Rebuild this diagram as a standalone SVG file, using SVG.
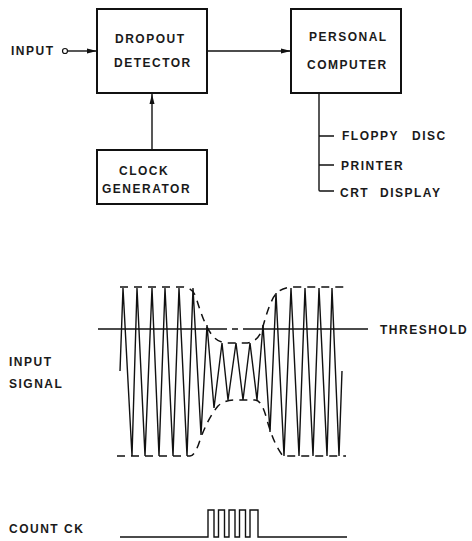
<svg xmlns="http://www.w3.org/2000/svg" width="472" height="541" viewBox="0 0 472 541">
<style>
text{font-family:"Liberation Sans",Arial,sans-serif;font-size:12px;font-weight:bold;fill:#1a1a1a;letter-spacing:1.5px}
.box{fill:#fff;stroke:#111;stroke-width:2}
.ln{fill:none;stroke:#111;stroke-width:1.4}
.wave{fill:none;stroke:#111;stroke-width:1.4;stroke-linejoin:miter}
.dash{fill:none;stroke:#111;stroke-width:1.5;stroke-dasharray:8 6}
</style>
<defs><marker id="a" viewBox="0 0 10 6" refX="10" refY="3" markerWidth="10" markerHeight="6" markerUnits="userSpaceOnUse" orient="auto"><path d="M0 .5L10 3L0 5.500z" fill="#111"/></marker></defs>
<rect width="472" height="541" fill="#fff"/>
<g id="connectors">
<circle cx="65" cy="51" r="2.500" fill="#fff" stroke="#111" stroke-width="1.200"/>
<path class="ln" d="M68 51H97" marker-end="url(#a)"/>
<path class="ln" d="M207 51H291" marker-end="url(#a)"/>
<path class="ln" d="M152 149V94" marker-end="url(#a)"/>
<path class="ln" d="M319 94V190Q319 191 320 191H334M319 136H334M319 165H334"/>
</g>
<g id="input-label"><text x="11" y="55">INPUT</text></g>
<g id="dropout-detector"><rect class="box" x="97" y="9" width="110" height="84"/><text x="115" y="43">DROPOUT</text><text x="114" y="67">DETECTOR</text></g>
<g id="personal-computer"><rect class="box" x="291" y="9" width="110" height="84"/><text x="309" y="41">PERSONAL</text><text x="307" y="69">COMPUTER</text></g>
<g id="clock-generator"><rect class="box" x="97" y="150" width="110" height="54"/><text x="119" y="175">CLOCK</text><text x="102" y="193">GENERATOR</text></g>
<g id="outputs"><text x="342" y="140">FLOPPY<tspan x="412">DISC</tspan></text><text x="341" y="170">PRINTER</text><text x="340" y="197" style="word-spacing:6px">CRT DISPLAY</text></g>
<g id="waveforms">
<path class="wave" d="M120 371L123 288L132 456L137 288L145 456L152 288L159 456L165 288L173 456L179 288L187 456L193 288L201 435L207 325L214 408L222 343L228 400L236 343L243 400L250 343L257 400L263 325L270 432L276 293L284 456L291 288L299 456L305 288L313 456L319 288L327 456L332 288L339 456L342 371"/>
<path class="dash" d="M120 287H182Q192 287 196 297Q204 325 212 335Q218 343 228 343H245Q257 343 262 330Q270 300 276 294Q282 287 295 287H346"/>
<path class="dash" d="M117 456H190Q195 456 200 440Q208 418 218 406Q224 400 235 400H255Q262 400 267 420Q274 445 283 456H346"/>
<path class="ln" d="M98 329H227M243 329H368"/>
<path class="dash" d="M232 329H238" style="stroke-dasharray:none"/>
<path class="ln" d="M120 537H208V510H214V537H218.500V510H224.500V537H229V510H235V537H239.500V510H245.500V537H250V510H258V537H347"/>
</g>
<g id="wave-labels"><text x="380" y="334">THRESHOLD</text><text x="9" y="366">INPUT</text><text x="9" y="388">SIGNAL</text><text x="9" y="533">COUNT CK</text></g>
</svg>
